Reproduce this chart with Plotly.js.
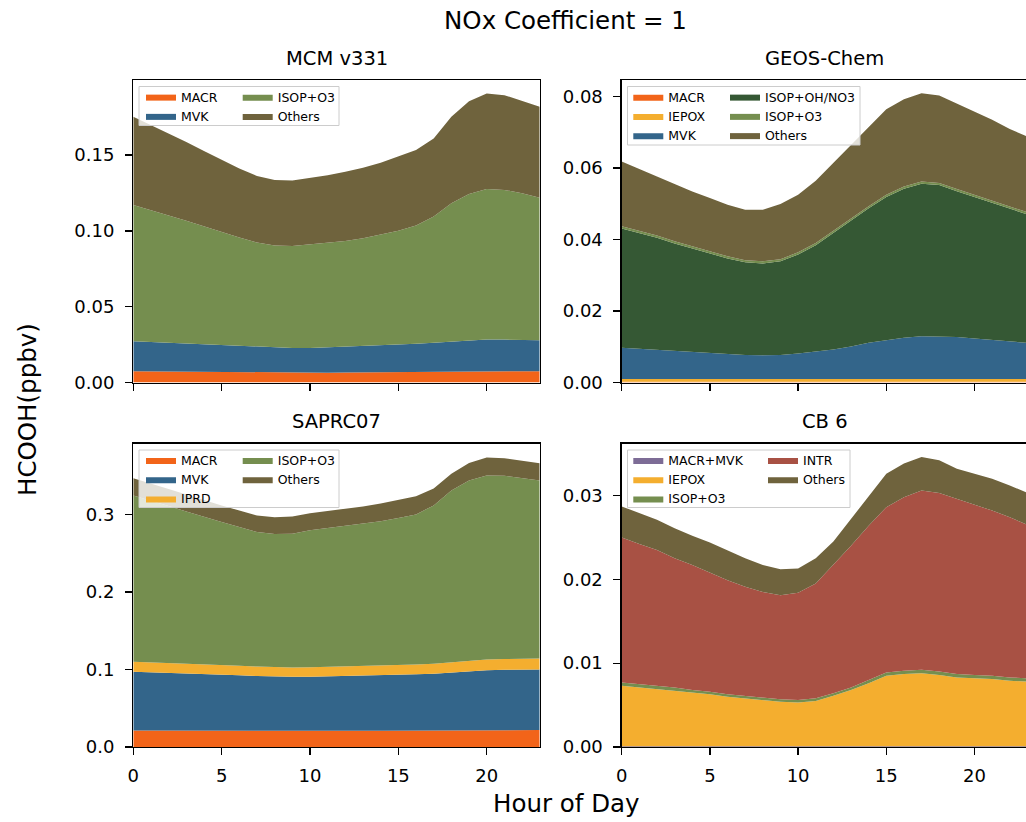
<!DOCTYPE html>
<html>
<head>
<meta charset="utf-8">
<script src="https://cdn.plot.ly/plotly-3.0.1.min.js"></script>
<style>html,body{margin:0;padding:0;background:#fff;}#chart{width:1026px;height:822px;}</style>
</head>
<body>
<div id="chart"></div>
<script>
// ---------------- data ----------------
const hours = [0,1,2,3,4,5,6,7,8,9,10,11,12,13,14,15,16,17,18,19,20,21,22,23];
const xTicks = [0,5,10,15,20];

// MCM v331
const mcmMACR   = [0.0074,0.0073,0.0072,0.0071,0.0070,0.0069,0.0068,0.0066,0.0065,0.0064,0.0064,0.0065,0.0066,0.0067,0.0068,0.0069,0.0070,0.0071,0.0073,0.0074,0.0075,0.0075,0.0075,0.0075];
const mcmMVK    = [0.0198,0.0194,0.0191,0.0187,0.0183,0.0179,0.0176,0.0173,0.0167,0.0164,0.0164,0.0167,0.0170,0.0173,0.0177,0.0181,0.0186,0.0191,0.0197,0.0204,0.0208,0.0208,0.0206,0.0203];
const mcmISOPO3 = [0.0899,0.0871,0.0838,0.0808,0.0775,0.0743,0.0712,0.0684,0.0671,0.0673,0.0684,0.0691,0.0698,0.0712,0.0729,0.0750,0.0779,0.0832,0.0912,0.0965,0.0993,0.0987,0.0967,0.0941];
const mcmOthers = [0.0581,0.0559,0.0542,0.0520,0.0498,0.0476,0.0456,0.0439,0.0433,0.0432,0.0439,0.0443,0.0456,0.0465,0.0476,0.0489,0.0498,0.0516,0.0570,0.0612,0.0630,0.0625,0.0609,0.0599];

// GEOS-Chem
const geosMACR   = [0.0002,0.0002,0.0002,0.0002,0.0002,0.0002,0.0002,0.0002,0.0002,0.0002,0.0002,0.0002,0.0002,0.0002,0.0002,0.0002,0.0002,0.0002,0.0002,0.0002,0.0002,0.0002,0.0002,0.0002];
const geosIEPOX  = [0.0008,0.0008,0.0008,0.0008,0.0008,0.0008,0.0008,0.0008,0.0008,0.0008,0.0008,0.0008,0.0008,0.0008,0.0008,0.0008,0.0008,0.0008,0.0008,0.0008,0.0008,0.0008,0.0008,0.0008];
const geosMVK    = [0.0087,0.0084,0.0081,0.0077,0.0075,0.0072,0.0069,0.0067,0.0066,0.0067,0.0071,0.0076,0.0082,0.0091,0.0101,0.0108,0.0115,0.0119,0.0119,0.0117,0.0113,0.0109,0.0105,0.0101];
const geosOHNO3  = [0.0334,0.0325,0.0314,0.0302,0.0290,0.0281,0.0268,0.0259,0.0257,0.0262,0.0277,0.0298,0.0327,0.0353,0.0376,0.0401,0.0417,0.0427,0.0423,0.0408,0.0396,0.0383,0.0372,0.0359];
const geosISOPO3 = [0.0006,0.0006,0.0006,0.0006,0.0006,0.0006,0.0006,0.0006,0.0006,0.0006,0.0006,0.0006,0.0006,0.0006,0.0006,0.0006,0.0006,0.0006,0.0006,0.0006,0.0006,0.0006,0.0006,0.0006];
const geosOthers = [0.0181,0.0173,0.0165,0.0160,0.0153,0.0147,0.0144,0.0141,0.0144,0.0154,0.0161,0.0174,0.0189,0.0205,0.0223,0.0239,0.0244,0.0247,0.0245,0.0240,0.0233,0.0227,0.0216,0.0212];

// SAPRC07
const sapMACR   = [0.0212,0.0211,0.0210,0.0209,0.0208,0.0207,0.0206,0.0205,0.0205,0.0205,0.0205,0.0206,0.0207,0.0208,0.0209,0.0210,0.0211,0.0213,0.0215,0.0217,0.0218,0.0219,0.0219,0.0219];
const sapMVK    = [0.0757,0.0752,0.0746,0.0741,0.0735,0.0728,0.0720,0.0710,0.0703,0.0700,0.0701,0.0704,0.0708,0.0712,0.0717,0.0722,0.0727,0.0732,0.0747,0.0758,0.0772,0.0776,0.0779,0.0781];
const sapIPRD   = [0.0129,0.0128,0.0127,0.0126,0.0125,0.0124,0.0123,0.0122,0.0121,0.0120,0.0121,0.0122,0.0123,0.0124,0.0125,0.0126,0.0127,0.0129,0.0132,0.0135,0.0137,0.0138,0.0139,0.0140];
const sapISOPO3 = [0.2145,0.2088,0.2023,0.1961,0.1896,0.1841,0.1786,0.1734,0.1716,0.1725,0.1766,0.1790,0.1810,0.1830,0.1858,0.1893,0.1934,0.2041,0.2214,0.2326,0.2374,0.2364,0.2334,0.2296];
const sapOthers = [0.0223,0.0222,0.0221,0.0219,0.0217,0.0215,0.0213,0.0214,0.0218,0.0222,0.0220,0.0219,0.0223,0.0228,0.0229,0.0234,0.0235,0.0218,0.0214,0.0226,0.0231,0.0227,0.0224,0.0223];

// CB 6
const cbMACRMVK = [0.0001,0.0001,0.0001,0.0001,0.0001,0.0001,0.0001,0.0001,0.0001,0.0001,0.0001,0.0001,0.0001,0.0001,0.0001,0.0001,0.0001,0.0001,0.0001,0.0001,0.0001,0.0001,0.0001,0.0001];
const cbIEPOX   = [0.0072,0.0070,0.0068,0.0066,0.0064,0.0062,0.0059,0.0057,0.0055,0.0053,0.0052,0.0054,0.0060,0.0067,0.0075,0.0084,0.0086,0.0087,0.0085,0.0082,0.0081,0.0080,0.0078,0.0077];
const cbISOPO3  = [0.0004,0.0004,0.0004,0.0004,0.0003,0.0003,0.0003,0.0003,0.0003,0.0003,0.0003,0.0003,0.0003,0.0003,0.0004,0.0004,0.0004,0.0004,0.0004,0.0004,0.0004,0.0004,0.0004,0.0004];
const cbINTR    = [0.0173,0.0167,0.0162,0.0154,0.0149,0.0142,0.0136,0.0130,0.0126,0.0124,0.0128,0.0137,0.0153,0.0169,0.0184,0.0197,0.0207,0.0214,0.0213,0.0209,0.0203,0.0197,0.0191,0.0183];
const cbOthers  = [0.0037,0.0037,0.0036,0.0036,0.0035,0.0036,0.0035,0.0034,0.0032,0.0031,0.0029,0.0030,0.0028,0.0032,0.0035,0.0040,0.0040,0.0040,0.0039,0.0036,0.0037,0.0038,0.0038,0.0038];

// ---------------- styles ----------------
const C = {
  MACR:'#F26419', IEPOX:'#F4AE2F', IPRD:'#F4AE2F', MVK:'#33658A', ISOPO3:'#758E4F',
  OHNO3:'#355834', Others:'#6F633D', INTR:'#A85144', MACRMVK:'#7D6C96'
};
const FONT = 'DejaVu Sans, Liberation Sans, sans-serif';
const W = 1026, H = 822;
const px = v => v / W;
const py = v => 1 - v / H;

function tr(name, y, color, stack, xa, ya, leg) {
  return {
    type:'scatter', mode:'lines', x: hours, y: y, name: name,
    stackgroup: stack, line:{width:0, color: color}, fillcolor: color,
    xaxis: xa, yaxis: ya, legend: leg, hoverinfo:'skip'
  };
}

const data = [
  tr('MACR', mcmMACR, C.MACR, 'mcm', 'x', 'y', 'legend'),
  tr('MVK', mcmMVK, C.MVK, 'mcm', 'x', 'y', 'legend'),
  tr('ISOP+O3', mcmISOPO3, C.ISOPO3, 'mcm', 'x', 'y', 'legend2'),
  tr('Others', mcmOthers, C.Others, 'mcm', 'x', 'y', 'legend2'),

  tr('MACR', geosMACR, C.MACR, 'geos', 'x2', 'y2', 'legend3'),
  tr('IEPOX', geosIEPOX, C.IEPOX, 'geos', 'x2', 'y2', 'legend3'),
  tr('MVK', geosMVK, C.MVK, 'geos', 'x2', 'y2', 'legend3'),
  tr('ISOP+OH/NO3', geosOHNO3, C.OHNO3, 'geos', 'x2', 'y2', 'legend4'),
  tr('ISOP+O3', geosISOPO3, C.ISOPO3, 'geos', 'x2', 'y2', 'legend4'),
  tr('Others', geosOthers, C.Others, 'geos', 'x2', 'y2', 'legend4'),

  tr('MACR', sapMACR, C.MACR, 'sap', 'x3', 'y3', 'legend5'),
  tr('MVK', sapMVK, C.MVK, 'sap', 'x3', 'y3', 'legend5'),
  tr('IPRD', sapIPRD, C.IPRD, 'sap', 'x3', 'y3', 'legend5'),
  tr('ISOP+O3', sapISOPO3, C.ISOPO3, 'sap', 'x3', 'y3', 'legend6'),
  tr('Others', sapOthers, C.Others, 'sap', 'x3', 'y3', 'legend6'),

  tr('MACR+MVK', cbMACRMVK, C.MACRMVK, 'cb', 'x4', 'y4', 'legend7'),
  tr('IEPOX', cbIEPOX, C.IEPOX, 'cb', 'x4', 'y4', 'legend7'),
  tr('ISOP+O3', cbISOPO3, C.ISOPO3, 'cb', 'x4', 'y4', 'legend7'),
  tr('INTR', cbINTR, C.INTR, 'cb', 'x4', 'y4', 'legend8'),
  tr('Others', cbOthers, C.Others, 'cb', 'x4', 'y4', 'legend8')
];

// ---------------- layout ----------------
const domL = [px(133.3), px(539.7)];
const domR = [px(621.7), 1];
const domT = [py(382.5), py(80)];
const domB = [py(747), py(443.5)];

const axBase = {
  showline:true, linecolor:'#000', linewidth:1.3, ticks:'outside', ticklen:7, tickwidth:1.3,
  tickcolor:'#000', showgrid:false, zeroline:false, fixedrange:true,
  tickfont:{family:FONT, size:18, color:'#000'}
};
function xa(dom, anchor, range, labels) {
  return Object.assign({}, axBase, {domain:dom, anchor:anchor, range:range, tickmode:'array',
    tickvals:xTicks, ticktext:xTicks.map(String), showticklabels:labels, mirror:true,
    ticklabelstandoff:5});
}
function ya(dom, anchor, range, vals, fmt, mirror) {
  return Object.assign({}, axBase, {domain:dom, anchor:anchor, range:range, tickmode:'array',
    tickvals:vals, ticktext:vals.map(v => v.toFixed(fmt)), mirror:mirror, ticklabelstandoff:7});
}

function legend(xPix, yPix) {
  return {x:px(xPix), y:py(yPix), xanchor:'left', yanchor:'top', xref:'paper', yref:'paper',
    orientation:'v', traceorder:'normal', bgcolor:'rgba(0,0,0,0)', borderwidth:0,
    font:{family:FONT, size:12.5, color:'#000'}, itemclick:false, itemdoubleclick:false};
}

function frame(x0, x1, y0, y1) {
  return {type:'rect', xref:'paper', yref:'paper', x0:px(x0), x1:px(x1), y0:py(y1), y1:py(y0),
    fillcolor:'rgba(255,255,255,0.8)', line:{color:'#cccccc', width:1}, layer:'above'};
}

function ann(text, xPix, yPix, size, angle) {
  return {text:text, x:px(xPix), y:py(yPix), xref:'paper', yref:'paper', showarrow:false,
    xanchor:'center', yanchor:'middle', textangle:angle || 0,
    font:{family:FONT, size:size, color:'#000'}};
}

const layout = {
  width:W, height:H, margin:{l:0, r:0, t:0, b:0}, paper_bgcolor:'#fff', plot_bgcolor:'#fff',
  showlegend:true,
  title:{text:'NOx Coefficient = 1', x:px(565.5), xanchor:'center', xref:'paper',
         y:py(20), yanchor:'middle', yref:'paper', font:{family:FONT, size:24.5, color:'#000'}},
  xaxis: xa(domL, 'y', [0, 23], false),
  yaxis: ya(domT, 'x', [0, 0.1995], [0, 0.05, 0.10, 0.15], 2, true),
  xaxis2: xa(domR, 'y2', [0, 22.92], false),
  yaxis2: ya(domT, 'x2', [0, 0.0846], [0, 0.02, 0.04, 0.06, 0.08], 2, false),
  xaxis3: xa(domL, 'y3', [0, 23], true),
  yaxis3: ya(domB, 'x3', [0, 0.3913], [0, 0.1, 0.2, 0.3], 1, true),
  xaxis4: xa(domR, 'y4', [0, 22.92], true),
  yaxis4: ya(domB, 'x4', [0, 0.0362], [0, 0.01, 0.02, 0.03], 2, false),
  legend:  legend(141, 82),
  legend2: legend(237.7, 82),
  legend3: legend(628.3, 82),
  legend4: legend(725, 82),
  legend5: legend(141, 445.3),
  legend6: legend(237.7, 445.3),
  legend7: legend(628.3, 445.3),
  legend8: legend(763, 445.3),
  shapes: [
    frame(139, 339, 86.5, 125.5),
    frame(627.5, 860, 86.5, 145),
    frame(139, 339, 450, 507.5),
    frame(627.5, 850, 450, 507.5)
  ],
  annotations: [
    ann('MCM v331', 336.5, 58, 19.5),
    ann('GEOS-Chem', 824.5, 58, 19.5),
    ann('SAPRC07', 336.5, 421, 19.5),
    ann('CB 6', 824.5, 421, 19.5),
    ann('Hour of Day', 566, 803, 24.5),
    ann('HCOOH(ppbv)', 28, 410, 24.5, -90)
  ]
};

Plotly.newPlot('chart', data, layout, {displayModeBar:false, staticPlot:true});
</script>
</body>
</html>
